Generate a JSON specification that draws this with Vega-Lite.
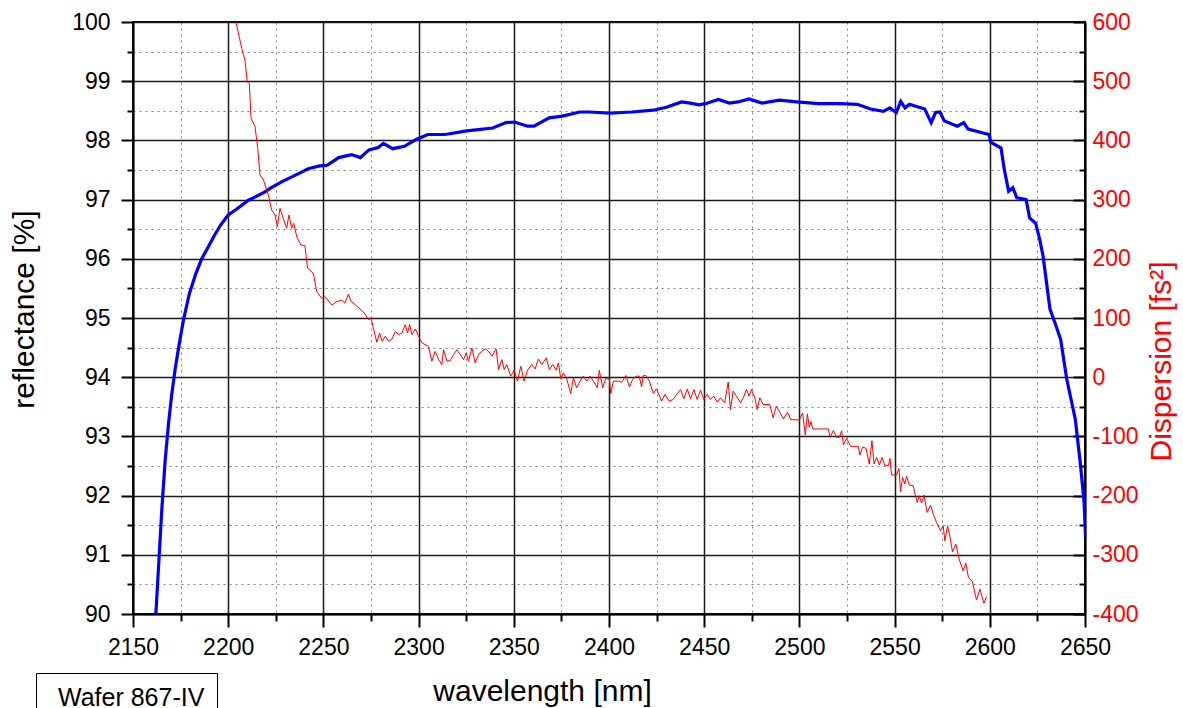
{
  "$schema": "https://vega.github.io/schema/vega-lite/v6.json",
  "width": 952,
  "height": 592,
  "autosize": {"type": "none"},
  "padding": {"left": 133, "top": 22, "right": 98, "bottom": 94},
  "background": "white",
  "config": {
    "font": "Liberation Sans",
    "view": {"stroke": "black", "strokeWidth": 2},
    "axis": {
      "domainColor": "black",
      "domainWidth": 2,
      "tickColor": "black",
      "tickWidth": 2,
      "labelFont": "Liberation Sans",
      "labelFontSize": 23,
      "labelColor": "black",
      "titleFont": "Liberation Sans",
      "titleFontSize": 30,
      "titleFontWeight": "normal",
      "titleColor": "black",
      "labelOverlap": false,
      "labelBound": false,
      "labelFlush": false
    }
  },
  "datasets": {
    "refl": [
      {"wl": 2162.0, "R": 90.0}, {"wl": 2163.6, "R": 90.9}, {"wl": 2165.2, "R": 91.8}, {"wl": 2166.9, "R": 92.6},
      {"wl": 2168.6, "R": 93.2}, {"wl": 2170.3, "R": 93.7}, {"wl": 2172.2, "R": 94.15}, {"wl": 2174.2, "R": 94.55},
      {"wl": 2176.4, "R": 94.95}, {"wl": 2179.5, "R": 95.4}, {"wl": 2183.0, "R": 95.75}, {"wl": 2186.1, "R": 96.0},
      {"wl": 2189.5, "R": 96.2}, {"wl": 2192.5, "R": 96.38}, {"wl": 2196.0, "R": 96.57}, {"wl": 2200.0, "R": 96.74},
      {"wl": 2204.5, "R": 96.84}, {"wl": 2210.6, "R": 96.99},
      {"wl": 2213.2, "R": 97.03}, {"wl": 2219.3, "R": 97.13}, {"wl": 2222.0, "R": 97.19}, {"wl": 2228.0, "R": 97.3},
      {"wl": 2236.4, "R": 97.43}, {"wl": 2242.0, "R": 97.52}, {"wl": 2248.0, "R": 97.57}, {"wl": 2252.0, "R": 97.58},
      {"wl": 2258.0, "R": 97.71}, {"wl": 2264.8, "R": 97.76}, {"wl": 2269.4, "R": 97.71}, {"wl": 2273.9, "R": 97.84},
      {"wl": 2278.8, "R": 97.88}, {"wl": 2281.5, "R": 97.95}, {"wl": 2286.4, "R": 97.86}, {"wl": 2292.5, "R": 97.9},
      {"wl": 2299.0, "R": 98.02}, {"wl": 2304.8, "R": 98.1}, {"wl": 2313.9, "R": 98.1}, {"wl": 2325.3, "R": 98.16},
      {"wl": 2339.0, "R": 98.21}, {"wl": 2345.8, "R": 98.3}, {"wl": 2350.4, "R": 98.31}, {"wl": 2357.2, "R": 98.24},
      {"wl": 2360.6, "R": 98.24}, {"wl": 2368.6, "R": 98.38}, {"wl": 2375.5, "R": 98.41}, {"wl": 2384.6, "R": 98.48},
      {"wl": 2389.2, "R": 98.48}, {"wl": 2400.5, "R": 98.46}, {"wl": 2411.9, "R": 98.48}, {"wl": 2423.3, "R": 98.51},
      {"wl": 2430.1, "R": 98.56}, {"wl": 2438.1, "R": 98.65}, {"wl": 2442.7, "R": 98.63}, {"wl": 2447.2, "R": 98.6},
      {"wl": 2450.6, "R": 98.62}, {"wl": 2457.5, "R": 98.69}, {"wl": 2463.2, "R": 98.63}, {"wl": 2467.8, "R": 98.65},
      {"wl": 2473.5, "R": 98.7}, {"wl": 2480.3, "R": 98.63}, {"wl": 2489.4, "R": 98.68}, {"wl": 2498.6, "R": 98.65},
      {"wl": 2510.0, "R": 98.62}, {"wl": 2521.3, "R": 98.62}, {"wl": 2530.4, "R": 98.61}, {"wl": 2537.3, "R": 98.53},
      {"wl": 2544.1, "R": 98.49}, {"wl": 2547.5, "R": 98.55}, {"wl": 2550.9, "R": 98.47}, {"wl": 2553.2, "R": 98.66},
      {"wl": 2555.5, "R": 98.55}, {"wl": 2557.8, "R": 98.61}, {"wl": 2565.8, "R": 98.53}, {"wl": 2569.2, "R": 98.3},
      {"wl": 2571.5, "R": 98.47}, {"wl": 2573.8, "R": 98.48}, {"wl": 2576.1, "R": 98.33}, {"wl": 2582.9, "R": 98.24},
      {"wl": 2586.3, "R": 98.3}, {"wl": 2588.6, "R": 98.19}, {"wl": 2599.6, "R": 98.1}, {"wl": 2600.5, "R": 97.97},
      {"wl": 2605.9, "R": 97.87}, {"wl": 2607.6, "R": 97.51}, {"wl": 2609.9, "R": 97.14}, {"wl": 2612.1, "R": 97.2},
      {"wl": 2614.2, "R": 97.03}, {"wl": 2619.1, "R": 97.0}, {"wl": 2620.9, "R": 96.69}, {"wl": 2624.1, "R": 96.6},
      {"wl": 2626.2, "R": 96.33}, {"wl": 2628.0, "R": 96.04}, {"wl": 2631.6, "R": 95.15}, {"wl": 2634.2, "R": 94.92},
      {"wl": 2637.2, "R": 94.64}, {"wl": 2640.4, "R": 93.97}, {"wl": 2644.9, "R": 93.29}, {"wl": 2647.5, "R": 92.56},
      {"wl": 2649.5, "R": 91.9}, {"wl": 2650.3, "R": 91.3}
    ],
    "disp": [
      {"wl": 2204.1, "D": 600}, {"wl": 2207.1, "D": 555.6}, {"wl": 2208.8, "D": 535.8}, {"wl": 2210.0, "D": 499},
      {"wl": 2211.1, "D": 496}, {"wl": 2212.0, "D": 437.3}, {"wl": 2214.1, "D": 423.2}, {"wl": 2215.5, "D": 386.7},
      {"wl": 2216.7, "D": 341.6}, {"wl": 2218.5, "D": 333.2}, {"wl": 2221.1, "D": 307.8}, {"wl": 2222.8, "D": 282.5},
      {"wl": 2224.6, "D": 274}, {"wl": 2225.8, "D": 254.3}, {"wl": 2227.2, "D": 285.3}, {"wl": 2228.9, "D": 268.4},
      {"wl": 2230.7, "D": 251.5}, {"wl": 2231.9, "D": 274}, {"wl": 2233.3, "D": 251.5}, {"wl": 2234.4, "D": 260},
      {"wl": 2236.0, "D": 237.4}, {"wl": 2238.2, "D": 223.3}, {"wl": 2240.3, "D": 222.2}, {"wl": 2241.7, "D": 184},
      {"wl": 2244.7, "D": 175.6}, {"wl": 2246.5, "D": 144.5}, {"wl": 2249.1, "D": 133.3}, {"wl": 2250.8, "D": 136},
      {"wl": 2254.4, "D": 122}, {"wl": 2257.0, "D": 127.6}, {"wl": 2259.6, "D": 130.4}, {"wl": 2261.3, "D": 124.8},
      {"wl": 2263.1, "D": 140}, {"wl": 2264.6, "D": 128}, {"wl": 2267.7, "D": 119.7}, {"wl": 2271.2, "D": 109.6},
      {"wl": 2273.8, "D": 97.2}, {"wl": 2275.0, "D": 100}, {"wl": 2276.4, "D": 80.3}, {"wl": 2278.1, "D": 59},
      {"wl": 2279.5, "D": 74.7}, {"wl": 2280.9, "D": 60.7}, {"wl": 2282.5, "D": 69.1}, {"wl": 2284.3, "D": 60.7},
      {"wl": 2286.0, "D": 64.6}, {"wl": 2287.8, "D": 77.5}, {"wl": 2289.5, "D": 71.9}, {"wl": 2291.3, "D": 74.7},
      {"wl": 2293.0, "D": 88.8}, {"wl": 2294.2, "D": 74.7}, {"wl": 2295.3, "D": 88.8}, {"wl": 2296.5, "D": 71.9},
      {"wl": 2298.3, "D": 81.5}, {"wl": 2300.0, "D": 69.1}, {"wl": 2301.7, "D": 57.9}, {"wl": 2305.2, "D": 52.2},
      {"wl": 2306.9, "D": 27}, {"wl": 2308.7, "D": 43.8}, {"wl": 2310.5, "D": 29.8}, {"wl": 2312.2, "D": 21.3},
      {"wl": 2313.1, "D": 46.6}, {"wl": 2314.9, "D": 27}, {"wl": 2316.6, "D": 28.1}, {"wl": 2318.4, "D": 38.2},
      {"wl": 2320.1, "D": 46.6}, {"wl": 2321.9, "D": 38.2}, {"wl": 2323.6, "D": 29.8}, {"wl": 2325.0, "D": 41},
      {"wl": 2326.2, "D": 27}, {"wl": 2328.0, "D": 49.4}, {"wl": 2329.7, "D": 24.2}, {"wl": 2331.5, "D": 38.2},
      {"wl": 2333.2, "D": 43.8}, {"wl": 2335.0, "D": 47.8}, {"wl": 2336.7, "D": 43.8}, {"wl": 2338.5, "D": 35.4},
      {"wl": 2340.7, "D": 47.8}, {"wl": 2342.0, "D": 12.9}, {"wl": 2343.7, "D": 29.8}, {"wl": 2345.0, "D": 12.9},
      {"wl": 2346.3, "D": 21.3}, {"wl": 2348.4, "D": 1.7}, {"wl": 2350.2, "D": 11.8}, {"wl": 2351.9, "D": -6.7},
      {"wl": 2353.7, "D": 18.5}, {"wl": 2355.4, "D": -6.7}, {"wl": 2357.2, "D": 11.8}, {"wl": 2359.4, "D": 21.3},
      {"wl": 2361.2, "D": 14}, {"wl": 2362.9, "D": 30.9}, {"wl": 2364.7, "D": 21.3}, {"wl": 2367.0, "D": 32.6},
      {"wl": 2368.7, "D": 12.9}, {"wl": 2370.5, "D": 21.3}, {"wl": 2372.2, "D": 11.8}, {"wl": 2373.4, "D": 24.2},
      {"wl": 2374.7, "D": -2.8}, {"wl": 2376.0, "D": 7.3}, {"wl": 2377.8, "D": -2.8}, {"wl": 2379.9, "D": -27.5},
      {"wl": 2381.3, "D": -1.1}, {"wl": 2383.0, "D": -18}, {"wl": 2384.8, "D": -6.7}, {"wl": 2386.5, "D": 1.7},
      {"wl": 2388.3, "D": -6.7}, {"wl": 2390.0, "D": 1.7}, {"wl": 2391.8, "D": -6.7}, {"wl": 2393.9, "D": -18},
      {"wl": 2394.9, "D": 11.8}, {"wl": 2396.7, "D": -18}, {"wl": 2398.4, "D": -1.1}, {"wl": 2400.2, "D": -3.9},
      {"wl": 2400.9, "D": -27.5}, {"wl": 2402.3, "D": -6.7}, {"wl": 2404.9, "D": -6.7}, {"wl": 2406.6, "D": -8.4},
      {"wl": 2408.9, "D": 2.8}, {"wl": 2410.7, "D": -16.3}, {"wl": 2412.4, "D": -3.9}, {"wl": 2414.2, "D": 1.7},
      {"wl": 2415.9, "D": 1.7}, {"wl": 2417.1, "D": -16.3}, {"wl": 2418.0, "D": 2.8}, {"wl": 2419.4, "D": 2.8},
      {"wl": 2421.2, "D": -6.7}, {"wl": 2423.3, "D": -27.5}, {"wl": 2425.0, "D": -19.7}, {"wl": 2427.6, "D": -40.4},
      {"wl": 2429.4, "D": -29.2}, {"wl": 2431.6, "D": -40.4}, {"wl": 2433.7, "D": -37.6}, {"wl": 2435.5, "D": -29.2},
      {"wl": 2437.6, "D": -20.8}, {"wl": 2439.3, "D": -36.5}, {"wl": 2441.1, "D": -19.7}, {"wl": 2442.8, "D": -36.5},
      {"wl": 2444.6, "D": -20.8}, {"wl": 2446.3, "D": -37.6}, {"wl": 2448.1, "D": -21.9}, {"wl": 2449.8, "D": -37.6},
      {"wl": 2451.6, "D": -29.2}, {"wl": 2453.3, "D": -37.6}, {"wl": 2455.1, "D": -32}, {"wl": 2456.8, "D": -42.1},
      {"wl": 2458.6, "D": -34.8}, {"wl": 2460.8, "D": -43.3}, {"wl": 2462.6, "D": -8.4}, {"wl": 2463.8, "D": -54.5},
      {"wl": 2465.2, "D": -23.6}, {"wl": 2466.9, "D": -32}, {"wl": 2469.1, "D": -43.3}, {"wl": 2470.5, "D": -34.8},
      {"wl": 2472.2, "D": -20.8}, {"wl": 2473.6, "D": -32}, {"wl": 2474.8, "D": -20.8}, {"wl": 2476.6, "D": -34.8},
      {"wl": 2477.8, "D": -54.5}, {"wl": 2479.2, "D": -34.8}, {"wl": 2480.9, "D": -46.1}, {"wl": 2484.4, "D": -46.1},
      {"wl": 2486.2, "D": -68.5}, {"wl": 2487.9, "D": -48.9}, {"wl": 2489.9, "D": -60.3}, {"wl": 2491.6, "D": -70.5},
      {"wl": 2493.7, "D": -59.2}, {"wl": 2495.5, "D": -71.6}, {"wl": 2500.0, "D": -72.2}, {"wl": 2501.7, "D": -60.3},
      {"wl": 2503.1, "D": -97.6}, {"wl": 2504.2, "D": -62}, {"wl": 2505.2, "D": -84.6}, {"wl": 2506.1, "D": -75},
      {"wl": 2507.0, "D": -87.4}, {"wl": 2515.2, "D": -87.4}, {"wl": 2516.1, "D": -101.5}, {"wl": 2517.8, "D": -90.2},
      {"wl": 2519.6, "D": -101.5}, {"wl": 2521.0, "D": -101.5}, {"wl": 2522.2, "D": -90.2}, {"wl": 2523.1, "D": -114.5},
      {"wl": 2524.8, "D": -103.2}, {"wl": 2526.9, "D": -116.8}, {"wl": 2530.9, "D": -116.8}, {"wl": 2531.8, "D": -131.4},
      {"wl": 2533.2, "D": -118}, {"wl": 2535.0, "D": -120.1}, {"wl": 2536.7, "D": -146.6}, {"wl": 2538.1, "D": -107.2},
      {"wl": 2539.2, "D": -146.6}, {"wl": 2540.6, "D": -135.4}, {"wl": 2542.0, "D": -148.3}, {"wl": 2543.4, "D": -135.4},
      {"wl": 2544.9, "D": -149.5}, {"wl": 2546.7, "D": -149.5}, {"wl": 2547.6, "D": -137.1}, {"wl": 2548.4, "D": -165.3},
      {"wl": 2551.0, "D": -165.3}, {"wl": 2552.3, "D": -154}, {"wl": 2553.1, "D": -193.5}, {"wl": 2554.2, "D": -169.2},
      {"wl": 2555.4, "D": -180.5}, {"wl": 2556.3, "D": -167.5}, {"wl": 2557.7, "D": -182.2}, {"wl": 2559.8, "D": -183.3},
      {"wl": 2560.7, "D": -197.4}, {"wl": 2561.9, "D": -211.5}, {"wl": 2562.9, "D": -200.2}, {"wl": 2564.2, "D": -212.6},
      {"wl": 2565.4, "D": -199.1}, {"wl": 2567.1, "D": -228.4}, {"wl": 2568.9, "D": -216}, {"wl": 2570.3, "D": -231.2},
      {"wl": 2572.0, "D": -245.3}, {"wl": 2574.1, "D": -259.4}, {"wl": 2575.5, "D": -251}, {"wl": 2576.4, "D": -276.4},
      {"wl": 2577.8, "D": -251}, {"wl": 2579.0, "D": -267.9}, {"wl": 2580.4, "D": -295}, {"wl": 2582.2, "D": -282},
      {"wl": 2583.9, "D": -307.4}, {"wl": 2586.0, "D": -327.1}, {"wl": 2587.4, "D": -314.2}, {"wl": 2588.8, "D": -338.4},
      {"wl": 2590.9, "D": -345.7}, {"wl": 2593.0, "D": -376.2}, {"wl": 2594.8, "D": -358.1}, {"wl": 2596.9, "D": -381.8},
      {"wl": 2598.3, "D": -370.6}
    ]
  },
  "layer": [
    {
      "data": {"name": "refl"},
      "mark": {"type": "line", "strokeWidth": 3.2, "clip": true, "interpolate": "linear"},
      "encoding": {
        "x": {
          "field": "wl",
          "type": "quantitative",
          "scale": {"domain": [2150, 2650], "nice": false, "zero": false},
          "axis": {
            "values": [2150, 2175, 2200, 2225, 2250, 2275, 2300, 2325, 2350, 2375, 2400, 2425, 2450, 2475, 2500, 2525, 2550, 2575, 2600, 2625, 2650],
            "labelExpr": "datum.value % 50 === 0 ? '' + datum.value : ''",
            "title": "wavelength [nm]",
            "titleX": 409,
            "titleY": 86,
            "titleAlign": "center",
            "titleBaseline": "alphabetic",
            "labelPadding": 9,
            "grid": true,
            "gridColor": {"condition": {"test": "datum.value % 50 === 0", "value": "#1a1a1a"}, "value": "#808080"},
            "gridDash": {"condition": {"test": "datum.value % 50 === 0", "value": []}, "value": [2, 4]},
            "gridWidth": {"condition": {"test": "datum.value % 50 === 0", "value": 1.5}, "value": 1},
            "tickSize": {"condition": {"test": "datum.value % 50 === 0", "value": 13}, "value": 7}
          }
        },
        "y": {
          "field": "R",
          "type": "quantitative",
          "scale": {"domain": [90, 100], "nice": false, "zero": false},
          "axis": {
            "values": [90, 90.5, 91, 91.5, 92, 92.5, 93, 93.5, 94, 94.5, 95, 95.5, 96, 96.5, 97, 97.5, 98, 98.5, 99, 99.5, 100],
            "labelExpr": "datum.value % 1 === 0 ? '' + datum.value : ''",
            "title": "reflectance [%]",
            "titleAngle": -90,
            "titleX": -100,
            "titleY": 287,
            "titleAlign": "center",
            "titleBaseline": "alphabetic",
            "labelPadding": 11,
            "grid": true,
            "gridColor": {"condition": {"test": "datum.value % 1 === 0", "value": "#1a1a1a"}, "value": "#808080"},
            "gridDash": {"condition": {"test": "datum.value % 1 === 0", "value": []}, "value": [2, 4]},
            "gridWidth": {"condition": {"test": "datum.value % 1 === 0", "value": 1.5}, "value": 1},
            "tickSize": {"condition": {"test": "datum.value % 1 === 0", "value": 12}, "value": 6}
          }
        },
        "color": {
          "datum": "Wafer 867-IV",
          "type": "nominal",
          "scale": {"range": ["#0000ff"]},
          "legend": {
            "orient": "none",
            "legendX": -97,
            "legendY": 651,
            "title": null,
            "strokeColor": "black",
            "fillColor": "white",
            "padding": 12,
            "symbolType": "circle",
            "symbolOpacity": 0,
            "symbolStrokeWidth": 0,
            "symbolSize": 80,
            "labelOffset": -15,
            "labelFont": "Liberation Sans",
            "labelFontSize": 25,
            "labelColor": "black"
          }
        }
      }
    },
    {
      "data": {"name": "disp"},
      "mark": {"type": "line", "strokeWidth": 1, "color": "#ff0000", "clip": true},
      "encoding": {
        "x": {"field": "wl", "type": "quantitative"},
        "y": {
          "field": "D",
          "type": "quantitative",
          "scale": {"domain": [-400, 600], "nice": false, "zero": false},
          "axis": {
            "orient": "right",
            "values": [-400, -350, -300, -250, -200, -150, -100, -50, 0, 50, 100, 150, 200, 250, 300, 350, 400, 450, 500, 550, 600],
            "labelExpr": "datum.value % 100 === 0 ? '' + datum.value : ''",
            "labelColor": "#ff0000",
            "title": "Dispersion [fs²]",
            "titleColor": "#ff0000",
            "titleAngle": -90,
            "titleX": 85,
            "titleY": 339,
            "titleAlign": "center",
            "titleBaseline": "alphabetic",
            "labelPadding": 19,
            "grid": false,
            "tickSize": {"condition": {"test": "datum.value % 100 === 0", "value": -12}, "value": -6}
          }
        }
      }
    }
  ],
  "resolve": {"scale": {"y": "independent"}}
}
